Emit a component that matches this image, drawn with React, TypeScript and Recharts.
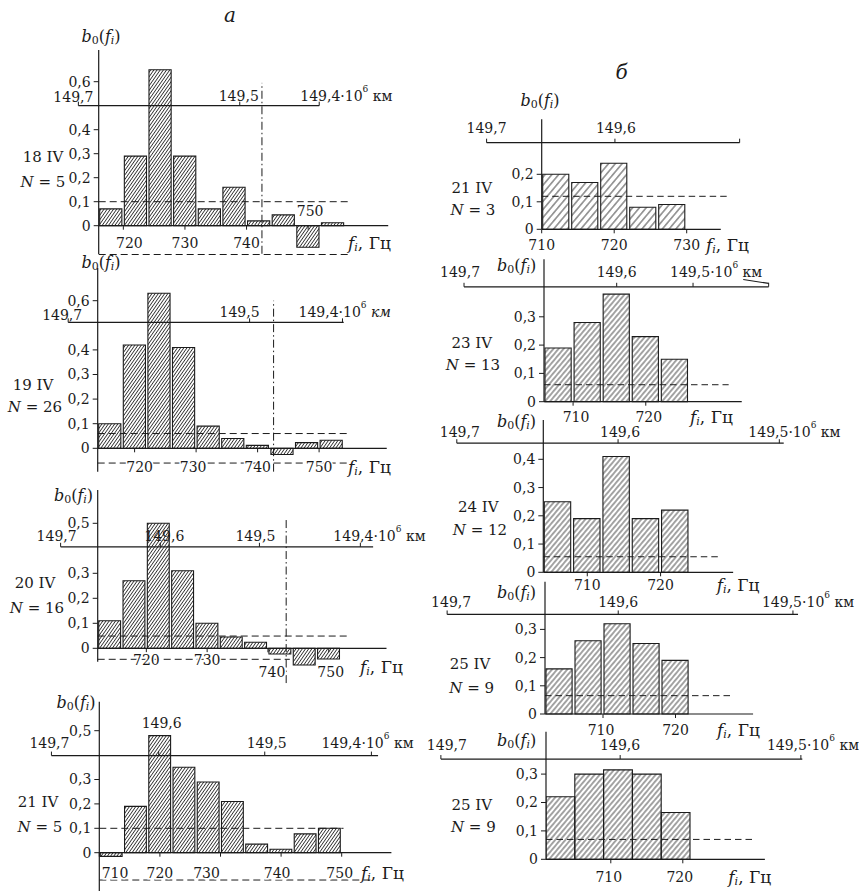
import React from 'react';
import { ComposedChart, Bar, XAxis, YAxis, ReferenceLine } from 'recharts';

const SERIF = '"DejaVu Serif", "Liberation Serif", serif';
const INK = '#1b1b1b';

// ---------- data: part а (left column) ----------
const freqA1 = [718, 722, 726, 730, 734, 738, 742, 746, 750, 754];
const valsA1 = [0.07, 0.29, 0.65, 0.29, 0.07, 0.16, 0.02, 0.045, -0.09, 0.012];
const freqA2 = [716, 720, 724, 728, 732, 736, 740, 744, 748, 752];
const valsA2 = [0.1, 0.42, 0.63, 0.41, 0.09, 0.04, 0.012, -0.025, 0.023, 0.033];
const freqA3 = [714, 718, 722, 726, 730, 734, 738, 742, 746, 750];
const valsA3 = [0.11, 0.27, 0.5, 0.31, 0.1, 0.045, 0.024, -0.023, -0.067, -0.043];
const freqA4 = [712, 716, 720, 724, 728, 732, 736, 740, 744, 748];
const valsA4 = [-0.015, 0.19, 0.48, 0.35, 0.29, 0.21, 0.035, 0.014, 0.077, 0.1];

// ---------- data: part б (right column) ----------
const freqB1 = [712, 716, 720, 724, 728];
const valsB1 = [0.2, 0.17, 0.24, 0.08, 0.09];
const freqB2 = [708, 712, 716, 720, 724];
const valsB2 = [0.19, 0.28, 0.38, 0.23, 0.15];
const freqB3 = [706, 710, 714, 718, 722];
const valsB3 = [0.25, 0.19, 0.41, 0.19, 0.22];
const freqB4 = [704, 708, 712, 716, 720];
const valsB4 = [0.16, 0.26, 0.32, 0.25, 0.19];
const freqB5 = [703, 707, 711, 715, 719];
const valsB5 = [0.22, 0.3, 0.315, 0.3, 0.165];

// ---------- ticks ----------
const xTicksA = [720, 730, 740, 750];
const xTicksA4 = [710, 720, 730, 740, 750];
const xTicksB1 = [710, 720, 730];
const xTicksB = [710, 720];
const yTicksA12 = [0, 0.1, 0.2, 0.3, 0.4, 0.6];
const yTicksA34 = [0, 0.1, 0.2, 0.3, 0.5];
const yTicksB1 = [0, 0.1, 0.2];
const yTicksB3 = [0, 0.1, 0.2, 0.3, 0.4];
const yTicksB = [0, 0.1, 0.2, 0.3];

// ---------- labels ----------
const dayLabels = ['18 IV', '19 IV', '20 IV', '21 IV', '21 IV', '23 IV', '24 IV', '25 IV', '25 IV'];
const nLabels = ['5', '26', '16', '5', '3', '13', '12', '9', '9'];

// distance scale ticks (label, frequency position)
type KmTick = { f: number; text: string; unit?: boolean; italicUnit?: boolean; noLabel?: boolean; dx: number; dy?: number };
const kmA1: KmTick[] = [
  { f: 712.7, text: '149,7', dx: -5, dy: 1 },
  { f: 738.9, text: '149,5', dx: -1 },
  { f: 751.8, text: '149,4', unit: true, dx: -19 },
];
const kmA2: KmTick[] = [
  { f: 709.2, text: '149,7', dx: -6, dy: 3 },
  { f: 738.7, text: '149,5', dx: -10 },
  { f: 753.8, text: '149,4', unit: true, italicUnit: true, dx: -44 },
];
const kmA3: KmTick[] = [
  { f: 705.9, text: '149,7', dx: -4 },
  { f: 722.3, text: '149,6', dx: 4 },
  { f: 738.6, text: '149,5', dx: -4 },
  { f: 755.2, text: '149,4', unit: true, dx: -27 },
];
const kmA4: KmTick[] = [
  { f: 702.1, text: '149,7', dx: -2 },
  { f: 719.8, text: '149,6', dx: 3, dy: -20 },
  { f: 737.3, text: '149,5', dx: 2 },
  { f: 754.9, text: '149,4', unit: true, dx: -50 },
];
const kmB1: KmTick[] = [
  { f: 702.4, text: '149,7', dx: 0 },
  { f: 720.1, text: '149,6', dx: 1 },
  { f: 737.3, text: '', noLabel: true, dx: 0 },
];
const kmB2: KmTick[] = [
  { f: 695.0, text: '149,7', dx: -4 },
  { f: 716.0, text: '149,6', dx: 0 },
  { f: 726.5, text: '149,5', unit: true, dx: -23 },
  { f: 736.9, text: '', noLabel: true, dx: 0 },
];
const kmB3: KmTick[] = [
  { f: 692.2, text: '149,7', dx: 3 },
  { f: 714.2, text: '149,6', dx: 2 },
  { f: 736.2, text: '149,5', unit: true, dx: -31 },
];
const kmB4: KmTick[] = [
  { f: 688.5, text: '149,7', dx: 4 },
  { f: 712.1, text: '149,6', dx: 0 },
  { f: 736.2, text: '149,5', unit: true, dx: -31 },
];
const kmB5: KmTick[] = [
  { f: 686.4, text: '149,7', dx: 6 },
  { f: 711.3, text: '149,6', dx: 0 },
  { f: 736.4, text: '149,5', unit: true, dx: -34 },
];

type PanelCfg = {
  id: string;
  freq: number[]; vals: number[]; binW: number;
  xTicks: number[]; yTicks: number[];
  mean: number; meanEnd: number;
  lower?: number; lowerEnd?: number;
  dashDot?: [number, number, number];
  kmY: number; kmFrom: number; kmTo: number; km: KmTick[];
  slash?: [number, number, number, number];
  baseEnd: number;
  L: number; T: number; W: number; H: number;
  axisX: number; f0: number; pxHz: number; zeroY: number; pxUnit: number;
  axisTop: number; axisBot: number;
  xLabelDy: number; xShift?: Record<number, [number, number]>;
  kmDy: number;
  hatch: number; hatchAngle: number;
  dash: string;
  b0At: [number, number]; dayAt: [number, number]; nAt: [number, number]; fAt: [number, number];
};

const panels: PanelCfg[] = [
  {
    id: 'a1', freq: freqA1, vals: valsA1, binW: 4, xTicks: xTicksA, yTicks: yTicksA12,
    mean: 0.1, meanEnd: 756.5, lower: -0.12, lowerEnd: 756.5, dashDot: [742.5, -0.117, 0.595],
    kmY: 0.5, kmFrom: 712.7, kmTo: 751.8, km: kmA1, baseEnd: 763,
    L: 0, T: 20, W: 430, H: 245, axisX: 98.7, f0: 716, pxHz: 6.16, zeroY: 225.7, pxUnit: 240,
    axisTop: 50, axisBot: 254, xLabelDy: 17.3, xShift: { 720: [6, 0], 750: [2, -32] }, kmDy: -10,
    hatch: 2.6, hatchAngle: 35, dash: '7 4',
    b0At: [101, 36], dayAt: [43, 157], nAt: [43, 182], fAt: [348, 243],
  },
  {
    id: 'a2', freq: freqA2, vals: valsA2, binW: 4, xTicks: xTicksA, yTicks: yTicksA12,
    mean: 0.06, meanEnd: 754.5, lower: -0.06, lowerEnd: 754.5, dashDot: [742.6, -0.095, 0.6],
    kmY: 0.512, kmFrom: 709.2, kmTo: 754, km: kmA2, baseEnd: 761,
    L: 0, T: 250, W: 430, H: 230, axisX: 97.7, f0: 714, pxHz: 6.15, zeroY: 448.3, pxUnit: 246,
    axisTop: 268, axisBot: 471.7, xLabelDy: 18.4, xShift: { 720: [5, 0], 730: [-3, 0] }, kmDy: -10,
    hatch: 2.6, hatchAngle: 35, dash: '7 4',
    b0At: [101, 262], dayAt: [33, 385], nAt: [35, 406.7], fAt: [348, 466.7],
  },
  {
    id: 'a3', freq: freqA3, vals: valsA3, binW: 4, xTicks: xTicksA, yTicks: yTicksA34,
    mean: 0.049, meanEnd: 753, lower: -0.044, lowerEnd: 743.6, dashDot: [743, -0.139, 0.513],
    kmY: 0.406, kmFrom: 705.9, kmTo: 757.3, km: kmA3, baseEnd: 759.5,
    L: 0, T: 480, W: 430, H: 210, axisX: 97.7, f0: 712, pxHz: 6.08, zeroY: 648.3, pxUnit: 250,
    axisTop: 490, axisBot: 661.7, xLabelDy: 11.7, xShift: { 740: [4, 12], 750: [2, 12] }, kmDy: -10.5,
    hatch: 2.6, hatchAngle: 35, dash: '7 4',
    b0At: [73.5, 495], dayAt: [35, 583.3], nAt: [37, 608.3], fAt: [360, 667],
  },
  {
    id: 'a4', freq: freqA4, vals: valsA4, binW: 4, xTicks: xTicksA4, yTicks: yTicksA34,
    mean: 0.1, meanEnd: 750.3, lower: -0.112, lowerEnd: 755,
    kmY: 0.398, kmFrom: 702.1, kmTo: 756, km: kmA4, baseEnd: 758.2,
    L: 0, T: 690, W: 430, H: 201, axisX: 99.3, f0: 710, pxHz: 6.06, zeroY: 852.7, pxUnit: 244,
    axisTop: 701.7, axisBot: 891, xLabelDy: 20, xShift: { 710: [15.7, 0], 730: [-14, 0], 740: [-4, 0], 750: [-2, 0] }, kmDy: -12.5,
    hatch: 2.6, hatchAngle: 35, dash: '7 4',
    b0At: [76, 701.7], dayAt: [38, 801.7], nAt: [40, 826.7], fAt: [361, 872.7],
  },
  {
    id: 'b1', freq: freqB1, vals: valsB1, binW: 4, xTicks: xTicksB1, yTicks: yTicksB1,
    mean: 0.12, meanEnd: 735.7,
    kmY: 0.315, kmFrom: 702.4, kmTo: 737.3, km: kmB1, baseEnd: 734.7,
    L: 420, T: 85, W: 439, H: 175, axisX: 541.7, f0: 710, pxHz: 7.25, zeroY: 229.3, pxUnit: 275,
    axisTop: 119.3, axisBot: 229.3, xLabelDy: 15.7, kmDy: -14.4,
    hatch: 5.2, hatchAngle: 40, dash: '6.5 4',
    b0At: [540, 100], dayAt: [471.7, 188.3], nAt: [473, 210], fAt: [706, 245],
  },
  {
    id: 'b2', freq: freqB2, vals: valsB2, binW: 4, xTicks: xTicksB, yTicks: yTicksB,
    mean: 0.06, meanEnd: 731.4,
    kmY: 0.406, kmFrom: 695, kmTo: 736.9, km: kmB2, slash: [733.4, 0.432, 736.9, 0.418], baseEnd: 733.2,
    L: 420, T: 250, W: 439, H: 178, axisX: 544, f0: 706, pxHz: 7.27, zeroY: 401.7, pxUnit: 283,
    axisTop: 259.3, axisBot: 401.7, xLabelDy: 15, xShift: { 710: [3, 0], 720: [3, 0] }, kmDy: -15,
    hatch: 3.9, hatchAngle: 40, dash: '6.5 4',
    b0At: [516.7, 265], dayAt: [471.7, 343.3], nAt: [473, 365], fAt: [690, 417],
  },
  {
    id: 'b3', freq: freqB3, vals: valsB3, binW: 4, xTicks: xTicksB, yTicks: yTicksB3,
    mean: 0.055, meanEnd: 728.3,
    kmY: 0.457, kmFrom: 692.2, kmTo: 736.8, km: kmB3, baseEnd: 729.9,
    L: 420, T: 410, W: 439, H: 185, axisX: 543.3, f0: 704, pxHz: 7.33, zeroY: 572.3, pxUnit: 282.5,
    axisTop: 420, axisBot: 572.3, xLabelDy: 12.7, kmDy: -11.6,
    hatch: 3.9, hatchAngle: 40, dash: '6.5 4',
    b0At: [516.5, 421], dayAt: [478.3, 506.7], nAt: [480, 530], fAt: [716.7, 585],
  },
  {
    id: 'b4', freq: freqB4, vals: valsB4, binW: 4, xTicks: xTicksB, yTicks: yTicksB,
    mean: 0.065, meanEnd: 728,
    kmY: 0.353, kmFrom: 688.5, kmTo: 736.9, km: kmB4, baseEnd: 730.7,
    L: 420, T: 575, W: 439, H: 165, axisX: 545, f0: 702, pxHz: 7.25, zeroY: 714, pxUnit: 282,
    axisTop: 581.7, axisBot: 714, xLabelDy: 16, xShift: { 710: [-2, 0] }, kmDy: -12.6,
    hatch: 3.9, hatchAngle: 40, dash: '6.5 4',
    b0At: [516.5, 591.7], dayAt: [470, 664], nAt: [471.7, 688.3], fAt: [717, 730],
  },
  {
    id: 'b5', freq: freqB5, vals: valsB5, binW: 4, xTicks: xTicksB, yTicks: yTicksB,
    mean: 0.07, meanEnd: 729.8,
    kmY: 0.353, kmFrom: 686.4, kmTo: 736.6, km: kmB5, baseEnd: 731.4,
    L: 420, T: 725, W: 439, H: 166, axisX: 546, f0: 701, pxHz: 7.2, zeroY: 859.3, pxUnit: 284,
    axisTop: 731.7, axisBot: 859.3, xLabelDy: 17.4, xShift: { 710: [-2, 0], 720: [-3, 0] }, kmDy: -14,
    hatch: 3.9, hatchAngle: 40, dash: '6.5 4',
    b0At: [516.7, 740], dayAt: [471.7, 805], nAt: [473.3, 826.7], fAt: [728.3, 876.7],
  },
];

const fmtY = (v: number) => (v === 0 ? '0' : v.toFixed(1).replace('.', ','));
const X_AXIS_H = 1;

function Panel({ c }: { c: PanelCfg }) {
  const plotBottom = c.T + c.H - X_AXIS_H; // page y of plot-area bottom
  const xMin = c.f0;
  const xMax = c.f0 + (c.L + c.W - c.axisX) / c.pxHz;
  const yMax = (c.zeroY - c.T) / c.pxUnit;
  const yMin = (c.zeroY - plotBottom) / c.pxUnit;
  const yAt = (py: number) => (c.zeroY - py) / c.pxUnit;
  const data = c.freq.map((f, i) => ({ f, v: c.vals[i] }));
  const pid = `hatch-${c.id}`;
  const tickH = 4 / c.pxUnit;
  const zeroSvg = c.zeroY - c.T;

  const XTick = (props: any) => {
    const { x, payload } = props;
    const v = payload?.value;
    const s = (c.xShift && c.xShift[v]) || [0, 0];
    return (
      <g>
        <line x1={x} x2={x} y1={zeroSvg} y2={zeroSvg + 4} stroke={INK} strokeWidth={1} />
        <text
          x={x + s[0]}
          y={zeroSvg + c.xLabelDy + s[1]}
          textAnchor="middle"
          dominantBaseline="central"
          fontFamily={SERIF}
          fontSize={14}
          fill={INK}
          stroke="#fff"
          strokeWidth={3}
          paintOrder="stroke"
        >
          {v}
        </text>
      </g>
    );
  };

  const kmLabel = (t: KmTick) => (lp: any) => {
    const vb = (lp && lp.viewBox) || {};
    const lineY = (vb.y ?? 0) + (vb.height ?? 0);
    const x = (vb.x ?? 0) + t.dx;
    const y = lineY + c.kmDy + (t.dy ?? 0);
    if (t.unit) {
      return (
        <text x={x} y={y} textAnchor="start" dominantBaseline="central" fontFamily={SERIF} fontSize={14} fill={INK}>
          {t.text}·10
          <tspan dy={-7} fontSize={9}>6</tspan>
          <tspan dy={7} fontStyle={t.italicUnit ? 'italic' : 'normal'}> км</tspan>
        </text>
      );
    }
    return (
      <text x={x} y={y} textAnchor="middle" dominantBaseline="central" fontFamily={SERIF} fontSize={14} fill={INK}>
        {t.text}
      </text>
    );
  };

  return (
    <div style={{ position: 'absolute', left: c.L, top: c.T, width: c.W, height: c.H }}>
      <ComposedChart
        width={c.W}
        height={c.H}
        data={data}
        margin={{ top: 0, right: 0, bottom: 0, left: 0 }}
        barCategoryGap={0}
        barGap={0}
      >
        <defs>
          <pattern
            id={pid}
            patternUnits="userSpaceOnUse"
            width={c.hatch}
            height={c.hatch}
            patternTransform={`rotate(${c.hatchAngle})`}
          >
            <line x1={c.hatch / 2} y1={0} x2={c.hatch / 2} y2={c.hatch} stroke={INK} strokeWidth={0.8} />
          </pattern>
        </defs>
        <XAxis
          type="number"
          dataKey="f"
          domain={[xMin, xMax]}
          allowDataOverflow
          ticks={c.xTicks}
          interval={0}
          height={X_AXIS_H}
          axisLine={false}
          tickLine={false}
          tick={XTick}
        />
        <YAxis
          type="number"
          domain={[yMin, yMax]}
          allowDataOverflow
          ticks={c.yTicks}
          interval={0}
          width={c.axisX - c.L}
          axisLine={false}
          tickSize={5}
          tickMargin={3}
          stroke={INK}
          tickFormatter={fmtY}
          tick={{ fontFamily: SERIF, fontSize: 14, fill: INK }}
        />
        <Bar
          dataKey="v"
          barSize={c.binW * c.pxHz}
          fill={`url(#${pid})`}
          stroke={INK}
          strokeWidth={1.1}
          isAnimationActive={false}
        />
        {/* vertical axis */}
        <ReferenceLine
          segment={[{ x: c.f0, y: yAt(c.axisBot) }, { x: c.f0, y: yAt(c.axisTop) }]}
          stroke={INK}
          strokeWidth={1.2}
          ifOverflow="visible"
        />
        {/* zero line */}
        <ReferenceLine
          segment={[{ x: c.f0, y: 0 }, { x: c.baseEnd, y: 0 }]}
          stroke={INK}
          strokeWidth={1.2}
          ifOverflow="visible"
        />
        {/* distance scale */}
        <ReferenceLine
          segment={[{ x: c.kmFrom, y: c.kmY }, { x: c.kmTo, y: c.kmY }]}
          stroke={INK}
          strokeWidth={1.2}
          ifOverflow="visible"
        />
        {c.km.map((t, i) => (
          <ReferenceLine
            key={`km${i}`}
            segment={[{ x: t.f, y: c.kmY }, { x: t.f, y: c.kmY + tickH }]}
            stroke={INK}
            strokeWidth={1}
            ifOverflow="visible"
            label={t.noLabel ? undefined : kmLabel(t)}
          />
        ))}
        {c.slash && (
          <ReferenceLine
            segment={[{ x: c.slash[0], y: c.slash[1] }, { x: c.slash[2], y: c.slash[3] }]}
            stroke={INK}
            strokeWidth={1.1}
            ifOverflow="visible"
          />
        )}
        {/* mean level */}
        <ReferenceLine
          segment={[{ x: c.f0, y: c.mean }, { x: c.meanEnd, y: c.mean }]}
          stroke={INK}
          strokeWidth={1}
          strokeDasharray={c.dash}
          ifOverflow="visible"
        />
        {c.lower !== undefined && (
          <ReferenceLine
            segment={[{ x: c.f0, y: c.lower }, { x: c.lowerEnd as number, y: c.lower }]}
            stroke={INK}
            strokeWidth={1}
            strokeDasharray={c.dash}
            ifOverflow="visible"
          />
        )}
        {c.dashDot && (
          <ReferenceLine
            segment={[{ x: c.dashDot[0], y: c.dashDot[1] }, { x: c.dashDot[0], y: c.dashDot[2] }]}
            stroke={INK}
            strokeWidth={1}
            strokeDasharray="8 3 1.5 3"
            ifOverflow="visible"
          />
        )}
      </ComposedChart>
    </div>
  );
}

const B0 = ({ x, y }: { x: number; y: number }) => (
  <text x={x} y={y} textAnchor="middle" dominantBaseline="central" fontFamily={SERIF} fontSize={16} fill={INK}>
    <tspan fontStyle="italic">b</tspan>
    <tspan fontSize={11} dy={4}>0</tspan>
    <tspan dy={-4}>(</tspan>
    <tspan fontStyle="italic">f</tspan>
    <tspan fontStyle="italic" fontSize={11} dy={4}>i</tspan>
    <tspan dy={-4}>)</tspan>
  </text>
);

const FLabel = ({ x, y }: { x: number; y: number }) => (
  <text x={x} y={y} textAnchor="start" dominantBaseline="central" fontFamily={SERIF} fontSize={17} fill={INK}>
    <tspan fontStyle="italic">f</tspan>
    <tspan fontStyle="italic" fontSize={11} dy={4}>i</tspan>
    <tspan dy={-4}>, Гц</tspan>
  </text>
);

function Overlay() {
  return (
    <svg
      width={859}
      height={891}
      style={{ position: 'absolute', left: 0, top: 0, pointerEvents: 'none' }}
    >
      <text x={230} y={15} textAnchor="middle" dominantBaseline="central" fontFamily={SERIF} fontStyle="italic" fontSize={20} fill={INK}>
        а
      </text>
      <text x={621.7} y={71.7} textAnchor="middle" dominantBaseline="central" fontFamily={SERIF} fontStyle="italic" fontSize={20} fill={INK}>
        б
      </text>
      {panels.map((c, i) => (
        <g key={c.id}>
          <B0 x={c.b0At[0]} y={c.b0At[1]} />
          <text x={c.dayAt[0]} y={c.dayAt[1]} textAnchor="middle" dominantBaseline="central" fontFamily={SERIF} fontSize={15} fill={INK}>
            {dayLabels[i]}
          </text>
          <text x={c.nAt[0]} y={c.nAt[1]} textAnchor="middle" dominantBaseline="central" fontFamily={SERIF} fontSize={15} fill={INK}>
            <tspan fontStyle="italic">N</tspan>
            <tspan> = {nLabels[i]}</tspan>
          </text>
          <FLabel x={c.fAt[0]} y={c.fAt[1]} />
        </g>
      ))}
    </svg>
  );
}

export default function App() {
  return (
    <div
      style={{
        position: 'absolute',
        left: 0,
        top: 0,
        width: 859,
        height: 891,
        background: '#fff',
        overflow: 'hidden',
      }}
    >
      {panels.map((c) => (
        <Panel key={c.id} c={c} />
      ))}
      <Overlay />
    </div>
  );
}
